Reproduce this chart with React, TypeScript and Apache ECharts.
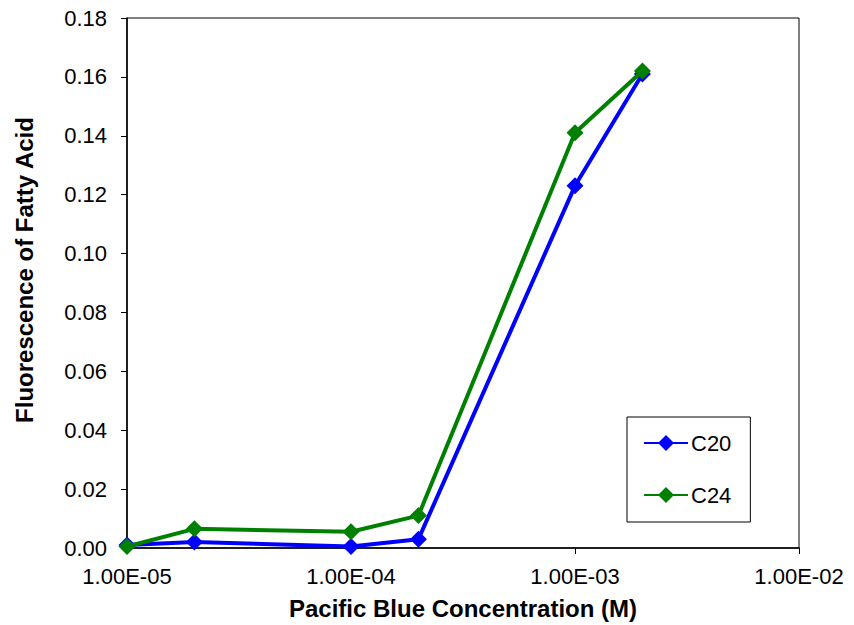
import React, { useEffect, useRef } from "react";
import * as echarts from "echarts";

const concentrations = [1e-5, 2e-5, 1e-4, 2e-4, 1e-3, 2e-3];
const c20Values = [0.001, 0.002, 0.0005, 0.003, 0.123, 0.161];
const c24Values = [0.0005, 0.0065, 0.0055, 0.011, 0.141, 0.162];
const seriesNames = ["C20", "C24"];
const seriesColors = ["#0000FF", "#008000"];
const xTitle = "Pacific Blue Concentration (M)";
const yTitle = "Fluorescence of Fatty Acid";

function fmtExp(v: number): string {
  const e = Math.round(Math.log10(v));
  const m = v / Math.pow(10, e);
  const sign = e < 0 ? "-" : "+";
  const abs = Math.abs(e);
  return m.toFixed(2) + "E" + sign + (abs < 10 ? "0" + abs : String(abs));
}

export default function App() {
  const ref = useRef<HTMLDivElement>(null);
  useEffect(() => {
    if (!ref.current) return;
    const chart = echarts.init(ref.current, undefined, { renderer: "svg" });
    const font = "'Liberation Sans', Arial, sans-serif";
    const mk = (vals: number[]) => concentrations.map((c, i) => [c, vals[i]]);
    chart.setOption({
      animation: false,
      backgroundColor: "#fff",
      textStyle: { fontFamily: font },
      grid: {
        left: 127,
        right: 55,
        top: 18,
        bottom: 76,
        show: true,
        borderColor: "#000",
        borderWidth: 1,
      },
      graphic: [
        {
          type: "text",
          x: 24,
          y: 270,
          rotation: Math.PI / 2,
          style: {
            text: yTitle,
            fill: "#000",
            font: "bold 24px 'Liberation Sans', Arial, sans-serif",
            align: "center",
            verticalAlign: "middle",
          },
        },
      ],
      xAxis: {
        type: "log",
        logBase: 10,
        min: 1e-5,
        max: 1e-2,
        name: xTitle,
        nameLocation: "middle",
        nameGap: 48,
        nameTextStyle: { fontSize: 24, fontWeight: "bold", color: "#000", fontFamily: font },
        axisLine: { show: true, lineStyle: { color: "#000", width: 1.5 } },
        axisTick: { show: true, inside: false, length: 6, lineStyle: { color: "#000" } },
        minorTick: { show: false },
        splitLine: { show: false },
        axisLabel: {
          color: "#000",
          fontSize: 22,
          margin: 17,
          fontFamily: font,
          formatter: (v: number) => fmtExp(v),
        },
      },
      yAxis: {
        type: "value",
        min: 0,
        max: 0.18,
        interval: 0.02,
        axisLine: { show: true, lineStyle: { color: "#000", width: 1.5 } },
        axisTick: { show: true, inside: false, length: 6, lineStyle: { color: "#000" } },
        splitLine: { show: false },
        axisLabel: {
          color: "#000",
          fontSize: 22,
          margin: 20,
          fontFamily: font,
          formatter: (v: number) => v.toFixed(2),
        },
      },
      legend: {
        orient: "vertical",
        left: 627,
        top: 417,
        padding: [15, 19, 16, 16],
        itemGap: 30,
        itemWidth: 44,
        itemHeight: 20,
        borderColor: "#000",
        borderWidth: 1,
        backgroundColor: "#fff",
        textStyle: { fontSize: 22, color: "#000", fontFamily: font, padding: [0, 0, 0, -2] },
        data: seriesNames,
      },
      series: [
        {
          name: seriesNames[0],
          type: "line",
          data: mk(c20Values),
          color: seriesColors[0],
          symbol: "diamond",
          symbolSize: 17,
          lineStyle: { width: 4, color: seriesColors[0] },
          itemStyle: { color: seriesColors[0] },
          z: 3,
        },
        {
          name: seriesNames[1],
          type: "line",
          data: mk(c24Values),
          color: seriesColors[1],
          symbol: "diamond",
          symbolSize: 17,
          lineStyle: { width: 4, color: seriesColors[1] },
          itemStyle: { color: seriesColors[1] },
          z: 4,
        },
      ],
    });
    return () => chart.dispose();
  }, []);
  return <div ref={ref} style={{ width: 854, height: 625, position: "absolute", left: 0, top: 0 }} />;
}
